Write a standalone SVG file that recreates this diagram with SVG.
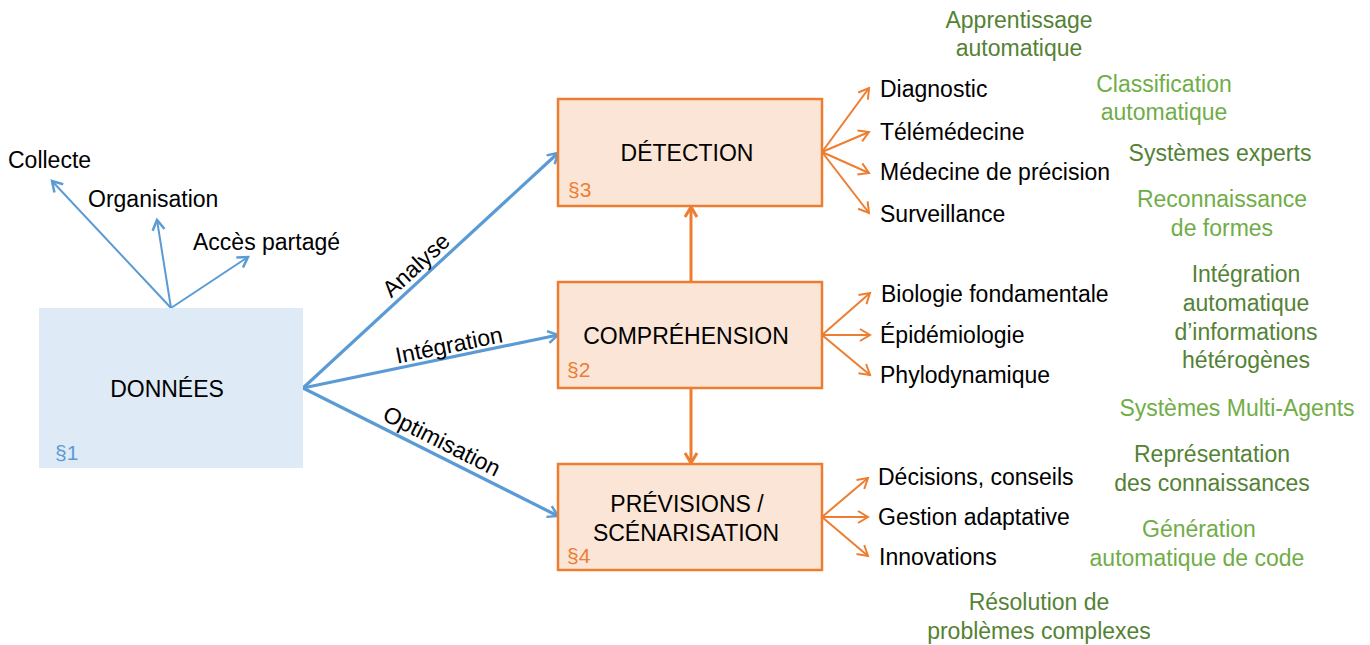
<svg xmlns="http://www.w3.org/2000/svg" width="1370" height="645" viewBox="0 0 1370 645">
<style>
text{font-family:"Liberation Sans",Arial,sans-serif;font-size:23px;fill:#000}
.mid{text-anchor:middle}
.sec{font-size:21px}
.sb{fill:#5B9BD5}
.so{fill:#ED7D31}
.g1{fill:#548235;text-anchor:middle}
.g2{fill:#70AD47;text-anchor:middle}
.bl{stroke:#5B9BD5;fill:none}
.or{stroke:#ED7D31;fill:none}
</style>
<defs>
<marker id="ab" markerUnits="userSpaceOnUse" markerWidth="16" markerHeight="16" refX="13" refY="8" orient="auto"><path d="M3,2 L13,8 L3,14" fill="none" stroke="#5B9BD5" stroke-width="2.5"/></marker>
<marker id="ao" markerUnits="userSpaceOnUse" markerWidth="16" markerHeight="16" refX="13" refY="8" orient="auto"><path d="M3,2 L13,8 L3,14" fill="none" stroke="#ED7D31" stroke-width="2"/></marker>
<marker id="ao3" markerUnits="userSpaceOnUse" markerWidth="16" markerHeight="16" refX="13" refY="8" orient="auto"><path d="M3,2 L13,8 L3,14" fill="none" stroke="#ED7D31" stroke-width="3"/></marker>
</defs>

<g id="connectors">
<line class="bl" stroke-width="2" x1="171" y1="308" x2="52" y2="181" marker-end="url(#ab)"/>
<line class="bl" stroke-width="2" x1="171" y1="308" x2="157" y2="220" marker-end="url(#ab)"/>
<line class="bl" stroke-width="2" x1="171" y1="308" x2="248" y2="257" marker-end="url(#ab)"/>
<line class="bl" stroke-width="3.2" x1="303" y1="388" x2="558" y2="153" marker-end="url(#ab)"/>
<line class="bl" stroke-width="3.2" x1="303" y1="388" x2="558" y2="335" marker-end="url(#ab)"/>
<line class="bl" stroke-width="3.2" x1="303" y1="388" x2="558" y2="516" marker-end="url(#ab)"/>
<line class="or" stroke-width="3" x1="691" y1="282" x2="691" y2="207" marker-end="url(#ao3)"/>
<line class="or" stroke-width="3" x1="691" y1="388" x2="691" y2="463" marker-end="url(#ao3)"/>
<line class="or" stroke-width="2" x1="822" y1="152" x2="869" y2="88" marker-end="url(#ao)"/>
<line class="or" stroke-width="2" x1="822" y1="152" x2="869" y2="132" marker-end="url(#ao)"/>
<line class="or" stroke-width="2" x1="822" y1="152" x2="869" y2="173" marker-end="url(#ao)"/>
<line class="or" stroke-width="2" x1="822" y1="152" x2="869" y2="213" marker-end="url(#ao)"/>
<line class="or" stroke-width="2" x1="822" y1="335" x2="870" y2="293" marker-end="url(#ao)"/>
<line class="or" stroke-width="2" x1="822" y1="335" x2="870" y2="335" marker-end="url(#ao)"/>
<line class="or" stroke-width="2" x1="822" y1="335" x2="870" y2="375" marker-end="url(#ao)"/>
<line class="or" stroke-width="2" x1="822" y1="517" x2="868" y2="478" marker-end="url(#ao)"/>
<line class="or" stroke-width="2" x1="822" y1="517" x2="868" y2="517" marker-end="url(#ao)"/>
<line class="or" stroke-width="2" x1="822" y1="517" x2="868" y2="556" marker-end="url(#ao)"/>
<text transform="translate(416,265) rotate(-42.7)" class="mid" y="8">Analyse</text>
<text transform="translate(449,345) rotate(-11.5)" class="mid" y="8">Intégration</text>
<text transform="translate(442,441) rotate(26.8)" class="mid" y="8">Optimisation</text>
</g>

<g id="donnees">
<rect x="39" y="308" width="264" height="160" fill="#DEEBF7"/>
<text x="167" y="397" class="mid">DONNÉES</text>
<text x="55" y="460" class="sec sb">§1</text>
</g>
<g id="collecte"><text x="8" y="168">Collecte</text></g>
<g id="organisation"><text x="88" y="207">Organisation</text></g>
<g id="acces"><text x="193" y="250">Accès partagé</text></g>

<g id="detection">
<rect x="558" y="99" width="264" height="107" fill="#FBE5D6" stroke="#ED7D31" stroke-width="2.5"/>
<text x="687" y="161" class="mid">DÉTECTION</text>
<text x="568" y="197" class="sec so">§3</text>
</g>
<g id="comprehension">
<rect x="558" y="282" width="264" height="106" fill="#FBE5D6" stroke="#ED7D31" stroke-width="2.5"/>
<text x="686" y="344" class="mid">COMPRÉHENSION</text>
<text x="567" y="377" class="sec so">§2</text>
</g>
<g id="previsions">
<rect x="558" y="464" width="264" height="106" fill="#FBE5D6" stroke="#ED7D31" stroke-width="2.5"/>
<text x="687" y="512" class="mid">PRÉVISIONS /</text>
<text x="686" y="541" class="mid">SCÉNARISATION</text>
<text x="567" y="563" class="sec so">§4</text>
</g>

<g id="detection-items">
<text x="880" y="97">Diagnostic</text>
<text x="880" y="140">Télémédecine</text>
<text x="880" y="180">Médecine de précision</text>
<text x="880" y="222">Surveillance</text>
</g>
<g id="comprehension-items">
<text x="881" y="302">Biologie fondamentale</text>
<text x="880" y="343">Épidémiologie</text>
<text x="880" y="383">Phylodynamique</text>
</g>
<g id="previsions-items">
<text x="878" y="485">Décisions, conseils</text>
<text x="878" y="525">Gestion adaptative</text>
<text x="879" y="565">Innovations</text>
</g>

<g id="methods">
<text class="g1" x="1019" y="28">Apprentissage</text>
<text class="g1" x="1019" y="56">automatique</text>
<text class="g2" x="1164" y="92">Classification</text>
<text class="g2" x="1164" y="120">automatique</text>
<text class="g1" x="1220" y="161">Systèmes experts</text>
<text class="g2" x="1222" y="207">Reconnaissance</text>
<text class="g2" x="1222" y="236">de formes</text>
<text class="g1" x="1246" y="282">Intégration</text>
<text class="g1" x="1246" y="311">automatique</text>
<text class="g1" x="1246" y="340">d’informations</text>
<text class="g1" x="1246" y="368">hétérogènes</text>
<text class="g2" x="1237" y="416">Systèmes Multi-Agents</text>
<text class="g1" x="1212" y="462">Représentation</text>
<text class="g1" x="1212" y="491">des connaissances</text>
<text class="g2" x="1199" y="537">Génération</text>
<text class="g2" x="1197" y="566">automatique de code</text>
<text class="g1" x="1039" y="610">Résolution de</text>
<text class="g1" x="1039" y="639">problèmes complexes</text>
</g>
</svg>
